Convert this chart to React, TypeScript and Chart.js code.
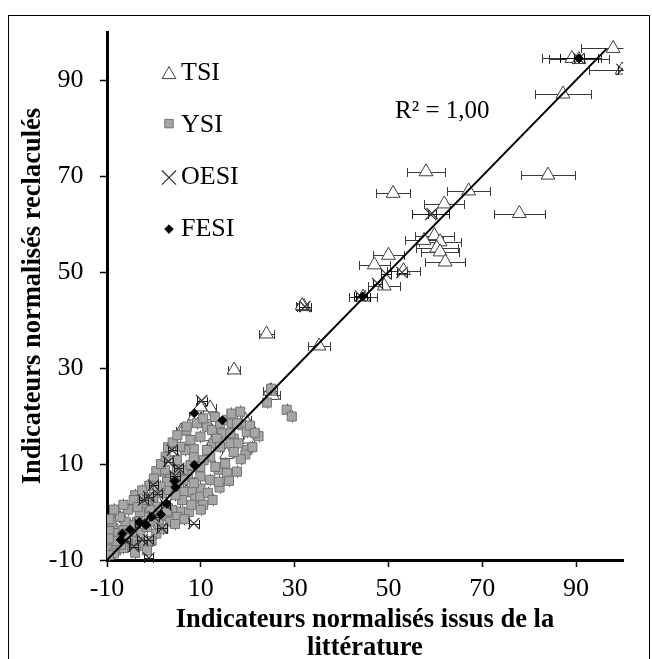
import { useEffect, useRef } from "react";
import { Chart, registerables } from "chart.js";
import { drawPoint } from "chart.js/helpers";

Chart.register(...registerables);

// Axis range and tick labels (both axes share them)
const axisMin = -10;
const axisMax = 100;
const tickValues = [-10, 10, 30, 50, 70, 90];

// [literature value, recalculated value, horizontal error]
const tsiPoints: [number, number, number][] = [
  [97.9, 96.6, 6.8], [89.1, 94.5, 6.3], [90.6, 94.3, 6.4], [99.8, 92.1, 7.0],
  [87.2, 87.1, 6.0], [58.0, 70.9, 4.1], [84.0, 70.2, 5.8], [51.0, 66.4, 3.6],
  [67.1, 66.9, 4.6], [61.9, 64.2, 4.3], [77.9, 62.2, 5.4], [59.8, 57.6, 4.2],
  [57.6, 56.6, 4.0], [61.0, 56.3, 4.4], [60.3, 55.0, 4.5], [61.0, 54.2, 4.1],
  [62.1, 52.1, 4.3], [50.0, 53.5, 3.3], [47.0, 51.5, 3.3], [53.2, 50.3, 3.5],
  [49.1, 47.1, 3.4], [44.6, 44.8, 3.0], [32.0, 42.8, 1.4], [31.6, 43.0, 1.3],
  [24.0, 37.1, 1.7], [35.2, 34.6, 2.4], [17.1, 29.6, 1.3], [25.3, 24.3, 1.6],
  [24.8, 25.2, 1.5], [8.7, 20.0, 1.2], [12.0, 21.7, 1.2], [11.1, 20.0, 1.0],
  [9.9, 21.9, 1.0], [5.8, 16.9, 1.0], [6.3, 17.1, 1.0], [20.2, 15.2, 1.2],
  [19.5, 19.1, 1.2], [11.3, 15.7, 1.0], [12.5, 14.5, 1.0], [4.0, 12.5, 1.0],
  [8.0, 6.0, 1.0], [3.0, 5.0, 1.0], [-2.0, 3.5, 1.0], [0.5, 1.0, 1.0],
  [-5.0, -4.0, 1.0], [7.0, 4.0, 1.0], [15.5, 12.0, 1.0], [2.0, -1.0, 1.0],
];

// [literature value, recalculated value]
const ysiPoints: [number, number][] = [
  [6.9, 17.0], [18.4, 20.9], [24.1, 22.8], [28.3, 21.3], [29.4, 19.9], [22.3, 15.8],
  [19.8, 12.9], [17.7, 8.4], [14.0, 5.1], [17.0, 15.3], [18.8, 18.1], [12.7, 14.3],
  [9.9, 15.7], [8.5, 13.1], [6.7, 12.9], [12.0, 11.5], [10.6, 10.8], [13.8, 8.8],
  [15.2, 10.1], [15.6, 8.1], [13.1, 9.4], [9.9, 7.4], [9.9, 4.9], [8.1, 4.2],
  [6.3, 4.2], [6.0, 2.5], [8.8, 2.8], [5.6, 0.1], [3.9, 0.4], [2.1, 8.4],
  [3.5, 7.4], [4.9, 6.0], [4.9, 8.8], [7.2, 7.7], [6.3, 8.8], [7.8, 9.8],
  [8.5, 11.4], [4.9, 10.8], [11.3, 17.8], [12.4, 17.1], [14.1, 18.5], [15.6, 19.2],
  [16.6, 18.5], [14.5, 16.4], [17.7, 18.5], [19.8, 16.7], [16.3, 16.4], [13.4, 15.3],
  [7.8, 15.0], [5.6, 13.6], [2.4, 8.8], [-4.0, 3.5], [-4.3, 2.5], [-7.5, -1.0],
  [-8.6, -3.4], [-8.9, -5.1], [-9.3, -6.2], [-7.9, -4.4], [-6.8, -5.5], [-5.7, -6.5],
  [-4.7, -7.2], [-3.6, -5.8], [-2.9, -4.4], [-1.5, -3.1], [-0.1, -2.0], [1.4, -0.6],
  [2.8, 0.1], [0.7, 1.1], [-0.8, 0.4], [-2.2, -1.0], [-3.6, -2.0], [-5.0, -2.7],
  [-6.1, -2.0], [-6.5, -3.8], [-4.7, -4.1], [-2.5, 1.8], [-1.5, 2.5], [-0.1, 3.2],
  [1.7, 3.9], [3.1, 4.6], [4.6, 3.5], [9.9, 3.2], [2.8, 6.3], [1.4, 5.3],
  [6.3, 6.7], [8.5, 6.0], [12.0, 6.7], [13.8, 6.3], [9.9, 9.4], [11.3, 12.9],
  [14.1, 13.6], [16.3, 14.3], [18.0, 14.3], [9.2, 18.5], [7.0, 17.8], [25.0, 25.7],
  [-9.3, -7.8], [-8.0, -8.0], [-6.5, -7.5], [-9.0, -2.0], [-7.2, -1.0], [-9.5, -4.0],
  [-3.0, -6.8], [0.5, -4.5], [-2.0, -7.0], [3.5, -2.0], [5.0, -1.0], [1.0, -2.5],
  [10.5, 1.5], [7.5, 0.0], [-5.5, 0.5], [-3.0, 0.0], [11.5, 4.0], [16.0, 6.5],
  [19.5, 12.0], [21.0, 13.5], [0.5, 8.5], [1.5, 10.0], [3.0, 13.5], [2.5, 11.5],
  [4.0, 14.5], [5.0, 16.0], [0.0, 7.0], [-1.0, 5.5], [-2.5, 4.5], [-3.5, 1.0],
  [10.5, 19.5], [13.0, 19.8], [16.5, 20.5], [20.5, 18.0], [21.5, 16.5], [18.5, 11.0],
  [17.0, 12.5], [12.5, 2.5], [10.0, 0.5], [6.5, -1.5], [8.0, 1.5], [4.5, -2.5],
  [2.0, -3.5], [-0.5, -6.0], [-1.5, -8.0], [-4.0, -8.5], [-8.5, -8.6], [-9.6, -9.0],
  [-7.0, -6.8], [-6.0, -4.5], [-8.0, -6.0], [-9.6, -5.5], [-9.5, -1.5], [-8.5, 0.5],
  [-6.5, 1.5],
];
const ysiErrY = 1.3;

// [literature value, recalculated value, horizontal error]
const oesiPoints: [number, number, number][] = [
  [99.8, 92.2, 0.9], [59.3, 62.2, 0.8], [59.0, 62.0, 4.0], [49.5, 49.6, 1.0],
  [52.9, 49.9, 1.0], [47.7, 47.6, 1.0], [44.0, 45.0, 1.4], [32.2, 42.8, 1.2],
  [90.6, 94.5, 1.0], [10.2, 23.2, 1.1], [3.9, 12.9, 1.0], [3.1, 10.5, 1.0],
  [5.3, 9.1, 1.0], [-0.1, 5.6, 1.0], [-1.1, 3.2, 1.0], [8.5, -2.4, 1.1],
  [-1.1, -5.8, 1.0], [-2.5, -5.8, 1.0], [-1.1, -9.6, 1.0], [-4.3, -7.2, 1.0],
  [1.7, -3.4, 1.0], [0.0, -1.0, 1.0], [-3.0, -2.5, 1.0], [2.5, 1.5, 1.0],
  [-6.0, -6.0, 1.0], [-2.2, 2.5, 1.0], [0.8, 3.8, 1.0], [4.5, 7.5, 1.0],
];

// [literature value, recalculated value, horizontal error]
const fesiPoints: [number, number, number][] = [
  [90.6, 94.5, 4.0], [44.5, 44.9, 1.5], [8.6, 20.6, 0], [14.6, 19.1, 0],
  [8.6, 9.8, 0], [4.6, 5.1, 0], [2.8, 1.7, 0], [1.5, -0.5, 0],
  [-0.5, -1.0, 0], [-1.6, -2.7, 0], [-3.1, -2.1, 0], [-5.1, -3.7, 0],
  [-6.7, -4.5, 0], [-7.1, -5.8, 0], [4.4, 6.4, 0],
];

// Linear trend line y = x over the fitted range
const trendX = [-10, 96.5];
const r2Text = "R² = 1,00";
const r2At = { x: 51.4, y: 82 };

const seriesNames = ["TSI", "YSI", "OESI", "FESI"];
const xTitle = ["Indicateurs normalisés issus de la", "littérature"];
const yTitle = "Indicateurs normalisés reclaculés";

const FONT = "'Liberation Serif', 'Times New Roman', Times, serif";

const styles = {
  TSI: { pointStyle: "triangle", radius: 8, bg: "#ffffff", border: "#404040", bw: 1 },
  YSI: { pointStyle: "rect", radius: 6.4, bg: "#a6a6a6", border: "#737373", bw: 1 },
  OESI: { pointStyle: "crossRot", radius: 8, bg: "#333333", border: "#333333", bw: 1.2 },
  FESI: { pointStyle: "rectRot", radius: 4.5, bg: "#000000", border: "#000000", bw: 1 },
} as const;

const CAP = 4.5;

// Error bars drawn just before each dataset's markers so they sit behind them
const errorBarPlugin = {
  id: "errorBars",
  beforeDatasetDraw(chart: any, args: any) {
    const ds = chart.data.datasets[args.index];
    if (!ds.xErr && !ds.yErr) return;
    const { ctx } = chart;
    const xs = chart.scales.x;
    const ys = chart.scales.y;
    ctx.save();
    ctx.strokeStyle = ds.errColor || "#333";
    ctx.lineWidth = 1;
    ds.data.forEach((p: any, i: number) => {
      const px = xs.getPixelForValue(p.x);
      const py = Math.round(ys.getPixelForValue(p.y)) + 0.5;
      if (ds.xErr && ds.xErr[i] > 0) {
        const lo = p.x - ds.xErr[i];
        const hi = p.x + ds.xErr[i];
        const x1 = Math.round(xs.getPixelForValue(Math.max(lo, axisMin))) + 0.5;
        const x2 = Math.round(xs.getPixelForValue(Math.min(hi, axisMax))) + 0.5;
        ctx.beginPath();
        ctx.moveTo(x1, py);
        ctx.lineTo(x2, py);
        if (lo >= axisMin) {
          ctx.moveTo(x1, py - CAP);
          ctx.lineTo(x1, py + CAP);
        }
        if (hi <= axisMax) {
          ctx.moveTo(x2, py - CAP);
          ctx.lineTo(x2, py + CAP);
        }
        ctx.stroke();
      }
      if (ds.yErr) {
        const cx = Math.round(px) + 0.5;
        const y1 = ys.getPixelForValue(p.y - ds.yErr);
        const y2 = ys.getPixelForValue(p.y + ds.yErr);
        ctx.beginPath();
        ctx.moveTo(cx, y1);
        ctx.lineTo(cx, y2);
        ctx.stroke();
      }
    });
    ctx.restore();
  },
};

// Page frame, legend block and R² annotation
const decorPlugin = {
  id: "decor",
  beforeDraw(chart: any) {
    const { ctx, width, height } = chart;
    ctx.save();
    ctx.fillStyle = "#fff";
    ctx.fillRect(0, 0, width, height);
    ctx.strokeStyle = "#000";
    ctx.lineWidth = 1;
    ctx.strokeRect(8.5, 15.5, width - 11, height + 20);
    ctx.restore();
  },
  afterDraw(chart: any) {
    const { ctx, chartArea } = chart;
    const xs = chart.scales.x;
    const ys = chart.scales.y;
    ctx.save();
    // legend
    const mx = chartArea.left + 62;
    const tx = chartArea.left + 74;
    const rowCenters = [42.5, 91.5, 145.5, 197];
    const legendRadius: Record<string, number> = { TSI: 8, YSI: 6, OESI: 10, FESI: 4.3 };
    seriesNames.forEach((name, i) => {
      const st = (styles as any)[name];
      const cy = chartArea.top + rowCenters[i];
      ctx.fillStyle = st.bg;
      ctx.strokeStyle = st.border;
      ctx.lineWidth = st.bw;
      drawPoint(ctx, { pointStyle: st.pointStyle, radius: legendRadius[name], rotation: 0, borderWidth: st.bw } as any, mx, cy);
      ctx.fillStyle = "#000";
      ctx.font = `26px ${FONT}`;
      ctx.textBaseline = "alphabetic";
      ctx.textAlign = "left";
      ctx.fillText(name, tx, chartArea.top + 48 + 52 * i);
    });
    // R² annotation
    ctx.font = `25px ${FONT}`;
    ctx.fillStyle = "#000";
    ctx.fillText(r2Text, xs.getPixelForValue(r2At.x), ys.getPixelForValue(r2At.y));
    ctx.restore();
  },
};

function toXY(points: number[][]) {
  return points.map((p) => ({ x: p[0], y: p[1] }));
}

export default function App() {
  const canvasRef = useRef<HTMLCanvasElement | null>(null);

  useEffect(() => {
    const canvas = canvasRef.current;
    if (!canvas) return;

    const mk = (name: keyof typeof styles, pts: number[][], extra: any = {}) => {
      const st = styles[name];
      return {
        label: name,
        data: toXY(pts),
        pointStyle: st.pointStyle,
        pointRadius: st.radius,
        pointBackgroundColor: st.bg,
        pointBorderColor: st.border,
        pointBorderWidth: st.bw,
        showLine: false,
        ...extra,
      };
    };

    const tickFont = { family: FONT, size: 26 };
    const titleFont = { family: FONT, size: 26.5, weight: "bold" as const, lineHeight: 1.06 };

    const chart = new Chart(canvas, {
      type: "scatter",
      data: {
        datasets: [
          {
            label: "trend",
            data: trendX.map((v) => ({ x: v, y: v })),
            showLine: true,
            borderColor: "#000",
            borderWidth: 2,
            pointRadius: 0,
          } as any,
          mk("FESI", fesiPoints, { xErr: fesiPoints.map((p) => p[2]), errColor: "#000" }),
          mk("OESI", oesiPoints, { xErr: oesiPoints.map((p) => p[2]), errColor: "#1a1a1a" }),
          mk("YSI", ysiPoints, { yErr: ysiErrY, errColor: "#555" }),
          mk("TSI", tsiPoints, { xErr: tsiPoints.map((p) => p[2]), errColor: "#3a3a3a" }),
        ],
      },
      options: {
        responsive: false,
        animation: false,
        devicePixelRatio: 1,
        layout: { padding: { top: 32, right: 29, bottom: 0, left: 0 } },
        plugins: {
          legend: { display: false },
          tooltip: { enabled: false },
        },
        elements: { point: { hoverRadius: 0 } },
        scales: {
          x: {
            type: "linear",
            min: axisMin,
            max: axisMax,
            afterBuildTicks: (s: any) => {
              s.ticks = tickValues.map((v) => ({ value: v }));
            },
            afterFit: (s: any) => {
              s.height = 99;
            },
            border: { display: true, color: "#000", width: 3 },
            grid: {
              display: true,
              drawOnChartArea: false,
              drawTicks: true,
              tickLength: 7,
              tickWidth: 1.5,
              tickColor: "#000",
            },
            ticks: {
              color: "#000",
              font: tickFont,
              padding: 7,
              maxRotation: 0,
              autoSkip: false,
              callback: (v: any) => String(v),
            },
            title: {
              display: true,
              text: xTitle,
              color: "#000",
              font: titleFont,
              padding: { top: 0, bottom: -3 },
            },
          },
          y: {
            type: "linear",
            min: axisMin,
            max: axisMax,
            afterBuildTicks: (s: any) => {
              s.ticks = tickValues.map((v) => ({ value: v }));
            },
            afterFit: (s: any) => {
              s.width = 107;
            },
            border: { display: true, color: "#000", width: 3 },
            grid: {
              display: true,
              drawOnChartArea: false,
              drawTicks: true,
              tickLength: 7,
              tickWidth: 1.5,
              tickColor: "#000",
            },
            ticks: {
              color: "#000",
              font: tickFont,
              padding: 16.5,
              autoSkip: false,
              callback: (v: any) => String(v),
            },
            title: {
              display: true,
              text: yTitle,
              color: "#000",
              font: titleFont,
              padding: { top: 19, bottom: 0 },
            },
          },
        },
      } as any,
      plugins: [errorBarPlugin, decorPlugin],
    });

    return () => chart.destroy();
  }, []);

  return (
    <div style={{ position: "absolute", left: 0, top: 0, width: 652, height: 659, background: "#fff" }}>
      <canvas ref={canvasRef} width={652} height={659} style={{ display: "block" }} />
    </div>
  );
}
